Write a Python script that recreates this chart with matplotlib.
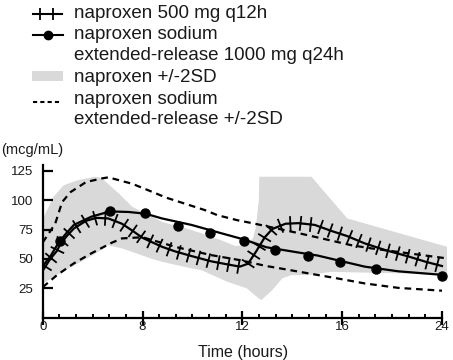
import numpy as np
import matplotlib
matplotlib.use('Agg')
import matplotlib.pyplot as plt
import matplotlib.patheffects as pe
from matplotlib.lines import Line2D
from matplotlib.patches import Rectangle

plt.rcParams['font.family'] = 'Liberation Sans'

# naproxen 500 mg q12h, mean curve (hours, mcg/mL)
nap_t = [0.0, 0.6, 1.15, 1.42, 1.97, 2.5, 3.48, 4.3, 5.26, 6.35, 7.2, 8.0, 8.78, 9.3,
         9.96, 10.75, 11.5, 11.9, 12.23, 12.57, 12.9, 13.2, 13.73, 14.25, 14.9, 15.55,
         16.4, 17.8, 19.44, 21.36, 22.7, 24.0]
nap_c = [40, 50, 57, 63, 70, 76, 82.5, 85, 84.5, 80, 74, 68, 60.4, 56.5,
         52.5, 48, 45, 43.5, 46, 57, 68.5, 75.5, 80, 80.5, 79, 74,
         69.5, 63.3, 57.6, 52, 47.6, 44]

# naproxen sodium extended-release 1000 mg q24h, fitted curve
er_t = [0, 0.6, 1.28, 1.9, 2.5, 3.9, 5.4, 6.9, 8.13, 8.78, 9.96, 11.14, 12.08,
        12.96, 14.25, 15.0, 15.9, 17.8, 20.5, 24]
er_c = [44, 52, 64, 72, 79, 86, 90.5, 90, 88.5, 84.5, 79, 72, 66.5,
        60, 55.5, 53, 48.5, 43.5, 39.5, 36.5]

# naproxen sodium ER, observed means
er_obs_t = [1.36, 5.39, 8.1, 9.43, 10.7, 12.05, 13.32, 14.64, 15.93, 18.75, 24.0]
er_obs_c = [65.5, 91, 89, 78, 72, 65, 57.6, 52.5, 47.2, 41.8, 35.8]

# naproxen sodium ER +/-2SD
er_hi_t = [0, 1.0, 1.56, 2.24, 3.48, 4.71, 5.26, 7.18, 8.52, 8.92, 10.5, 11.0,
           11.8, 12.44, 14.25, 15.0, 16.7, 18.35, 24.4]
er_hi_c = [64, 80, 98.5, 107, 115.5, 118.5, 119.5, 114, 106, 102.4, 91.6, 87.3,
           83, 80.3, 72, 68.4, 61.8, 59, 50.5]
er_lo_t = [0, 1.15, 2.5, 3.9, 5.53, 6.35, 8.0, 9.37, 10.75, 11.9, 12.96, 13.73,
           14.5, 15.8, 17.8, 20.5, 24.0]
er_lo_c = [26, 36.3, 46.3, 54.8, 63.8, 67.5, 68.5, 60, 53.3, 49, 44, 41.2,
           38.3, 33.5, 29.2, 25.4, 23]

# naproxen +/-2SD band
band_hi_t = [0, 0.87, 1.69, 2.8, 4.16, 4.71, 6.08, 7.18, 8.39, 8.78, 9.96, 10.35,
             11.14, 11.73, 12.19, 12.43, 12.54, 12.66, 12.68, 14.77, 16.41, 24.4]
band_hi_c = [84, 103, 112.8, 117, 120, 119, 106, 94.4, 86, 81.6, 74.6, 72,
             66, 61, 62, 68, 77, 100, 120, 120, 84.5, 60.4]
band_lo_t = [0, 1.15, 3.07, 4.44, 5.26, 6.35, 7.18, 8.39, 8.78, 9.96, 10.35, 11.4,
             12.18, 12.57, 12.76, 13.2, 13.6, 13.98, 14.64, 15.55, 20.5, 24.4]
band_lo_c = [29, 36.3, 47.6, 56, 61.8, 59, 56, 50, 47.6, 42, 40.6, 30.6,
             25, 18, 15, 23.5, 33.5, 36.3, 36.3, 39, 37.8, 36.3]

x_major = [0, 8, 12, 16, 24]
y_major = [25, 50, 75, 100, 125]

W, H = 453, 360
TXT = '#1a1a1a'
GRAY = '#d9d9d9'

# piecewise time axis: 0-8, 8-12, 12-16, 16-24 get equal widths
tk = [-8, 0, 8, 12, 16, 24, 32]
uk = [-1, 0, 1, 2, 3, 4, 5]
fwd = lambda t: np.interp(t, tk, uk)
inv = lambda u: np.interp(u, uk, tk)

fig = plt.figure(figsize=(W/100, H/100), dpi=100)
ax = fig.add_axes([42.7/W, 1 - 318.3/H, 404.9/W, (318.3 - 165)/H])
ax.set_xscale('function', functions=(fwd, inv))
ax.set_xlim(0, 24.45)
ax.set_ylim(-0.5, 130)

ax.fill(band_hi_t + band_lo_t[::-1], band_hi_c + band_lo_c[::-1],
        color=GRAY, lw=0, zorder=1)
ax.plot(er_hi_t, er_hi_c, color='k', lw=1.6, dashes=(3, 2.2), zorder=2)
ax.plot(er_lo_t, er_lo_c, color='k', lw=1.6, dashes=(3, 2.2), zorder=2)
ax.plot(er_t, er_c, color='k', lw=1.6, zorder=3)
ax.plot(er_obs_t, er_obs_c, 'o', color='k', ms=6.5, zorder=5)
ax.plot(nap_t, nap_c, color='k', lw=1.6, zorder=4,
        path_effects=[pe.Normal(),
                      pe.TickedStroke(spacing=7.2, angle=90, length=0.65, linewidth=1.3),
                      pe.TickedStroke(spacing=7.2, angle=-90, length=0.65, linewidth=1.3)])

for s in ['top', 'right']:
    ax.spines[s].set_visible(False)
for s in ['left', 'bottom']:
    ax.spines[s].set_linewidth(1.6)
ax.spines['bottom'].set_bounds(0, 24)

minor = []
for a, b in zip(x_major[:-1], x_major[1:]):
    minor += list(np.linspace(a, b, 7)[1:-1])
ax.set_xticks(x_major)
ax.set_xticks(minor, minor=True)
ax.set_xticklabels([str(v) for v in x_major])
ax.set_yticks(y_major)
ax.set_yticklabels([str(v) for v in y_major])
ax.tick_params(axis='x', which='major', direction='inout', length=9.5, width=1.6,
               pad=-3, labelsize=9.5, labelcolor=TXT)
ax.tick_params(axis='x', which='minor', direction='in', length=3, width=1.4)
ax.tick_params(axis='y', which='major', direction='in', length=7.5, width=1.6,
               pad=7, labelsize=9.5, labelcolor=TXT)

fig.text(1/W, 1 - 150/H, '(mcg/mL)', fontsize=10.5, color=TXT, va='center', ha='left')
fig.text(243/W, 1 - 352/H, 'Time (hours)', fontsize=11.5, color=TXT, va='center', ha='center')

# legend drawn by hand so handles line up with the first text line
fx = lambda p: p / W
fy = lambda p: 1 - p / H
fig.add_artist(Line2D([fx(33.3), fx(61.7)], [fy(14), fy(14)], color='k', lw=1.5,
                      transform=fig.transFigure))
fig.add_artist(Line2D([fx(40), fx(53)], [fy(14), fy(14)], ls='none', marker='|',
                      ms=9, mew=1.3, color='k', transform=fig.transFigure))
fig.add_artist(Line2D([fx(33.3), fx(62.5)], [fy(34.5), fy(34.5)], color='k', lw=1.5,
                      transform=fig.transFigure))
fig.add_artist(Line2D([fx(48.3)], [fy(34.5)], ls='none', marker='o', ms=6,
                      color='k', transform=fig.transFigure))
fig.add_artist(Rectangle((fx(32.3), fy(80.7)), 30.4/W, 10/H, color=GRAY, lw=0,
                         transform=fig.transFigure))
fig.add_artist(Line2D([fx(33.3), fx(61.7)], [fy(101.7), fy(101.7)], color='k', lw=1.5,
                      dashes=(2, 1.5), transform=fig.transFigure))

legend_lines = [('naproxen 500 mg q12h', 18.3),
                ('naproxen sodium', 39.3),
                ('extended-release 1000 mg q24h', 60),
                ('naproxen +/-2SD', 82.3),
                ('naproxen sodium', 104.3),
                ('extended-release +/-2SD', 124)]
for txt, base in legend_lines:
    fig.text(fx(74), fy(base), txt, fontsize=13.5, color=TXT, va='baseline', ha='left')

plt.savefig('out.png', dpi=100)
